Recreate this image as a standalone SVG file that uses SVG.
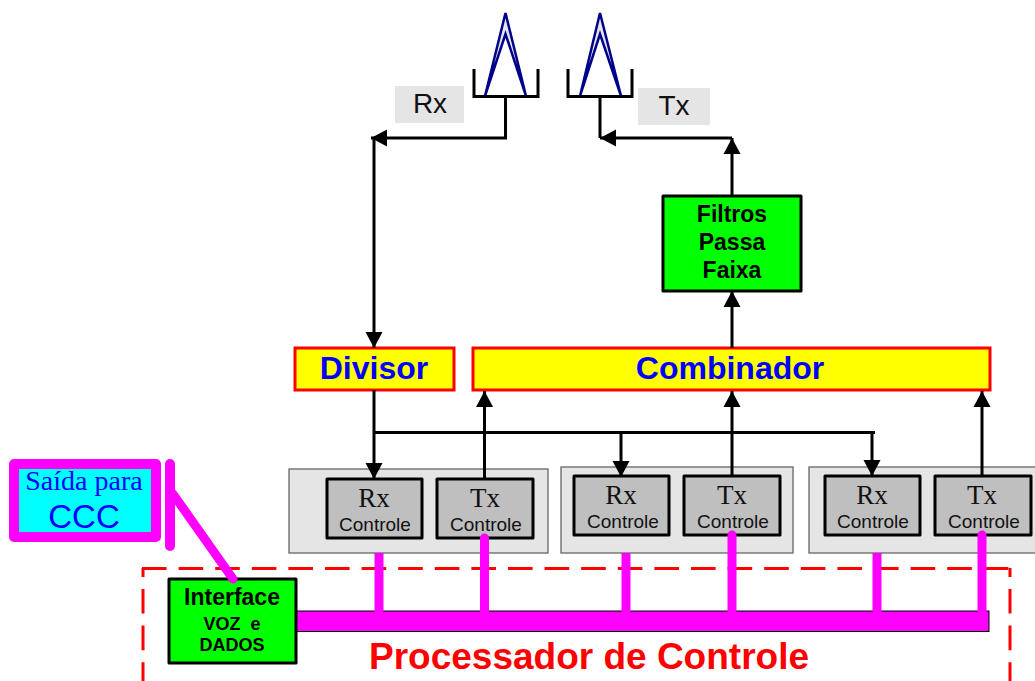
<svg xmlns="http://www.w3.org/2000/svg" width="1035" height="681" viewBox="0 0 1035 681">
<defs>
<marker id="ah" markerUnits="userSpaceOnUse" markerWidth="18" markerHeight="18" refX="16" refY="9" orient="auto"><path d="M0,0.500L16,9L0,17.500Z" fill="#000"/></marker>
</defs>
<style>
text{font-family:"Liberation Sans",Arial,sans-serif;text-anchor:middle}
.serif{font-family:"Liberation Serif","Times New Roman",serif}
.panel{fill:#e5e5e5;stroke:#666;stroke-width:1.3}
.mod{fill:#bfbfbf;stroke:#000;stroke-width:3;stroke-linejoin:round}
.big{font-size:27px;fill:#111}
.small{font-size:19px;fill:#111}
.conn{fill:none;stroke:#000;stroke-width:3}
.arrow{marker-end:url(#ah)}
.ant{fill:none;stroke:#000;stroke-width:3}
.dish{fill:#e5e5e5;stroke:#00008b;stroke-width:2.5}
.yel{fill:#ff0;stroke:#f00;stroke-width:3}
.blueb{font-size:32px;font-weight:bold;fill:#00f}
.grn{fill:#0f0;stroke:#000;stroke-width:3;stroke-linejoin:round}
.bl{font-weight:bold;fill:#000}
.dash{fill:none;stroke:#f00;stroke-width:3;stroke-dasharray:24.600 12}
</style>
<g id="panels">
<rect class="panel" x="289" y="469" width="259" height="84"/>
<rect class="panel" x="561" y="467" width="232" height="86"/>
<rect class="panel" x="809" y="467" width="232" height="86"/>
</g>
<g id="frame">
<path class="dash" d="M142,568.500H1010"/>
<path class="dash" d="M143,568V684" stroke-dashoffset="15.600"/>
<path class="dash" d="M1010,568V684" stroke-dashoffset="15.600"/>
</g>
<g id="antenna-rx">
<path class="dish" d="M485,96L505.500,13L526,96L505.500,34Z"/>
<path class="ant" d="M474,69V96.500H538V69"/>
</g>
<g id="antenna-tx">
<path class="dish" d="M580,96L600,13L621,96L600,34Z"/>
<path class="ant" d="M568,69V96.500H632V69"/>
</g>
<g id="label-rx"><rect x="395" y="86" width="69" height="37" fill="#e5e5e5"/><text x="430" y="113" font-size="28" fill="#111">Rx</text></g>
<g id="label-tx"><rect x="638" y="88" width="72" height="37" fill="#e5e5e5"/><text x="674" y="115" font-size="28" fill="#111">Tx</text></g>
<g id="bus"><rect x="296" y="611" width="693" height="20.500" fill="#f0f" stroke="#000" stroke-width="1"/></g>
<g id="divisor"><rect class="yel" x="295" y="348" width="159" height="42"/><text class="blueb" x="374" y="379">Divisor</text></g>
<g id="combinador"><rect class="yel" x="473" y="348" width="517" height="42"/><text class="blueb" x="730" y="379">Combinador</text></g>
<g id="filtros"><rect class="grn" x="663" y="196" width="138" height="95"/>
<text class="bl" x="732" y="222" font-size="23">Filtros</text><text class="bl" x="732" y="250" font-size="23">Passa</text><text class="bl" x="732" y="278" font-size="23">Faixa</text></g>
<g id="rx1"><rect class="mod" x="327" y="479" width="95" height="59"/><text class="big serif" x="374" y="507">Rx</text><text class="small" x="375" y="531">Controle</text></g>
<g id="tx1"><rect class="mod" x="437" y="479" width="96" height="59"/><text class="big serif" x="485" y="507">Tx</text><text class="small" x="486" y="531">Controle</text></g>
<g id="rx2"><rect class="mod" x="574" y="476" width="95" height="59"/><text class="big serif" x="621" y="504">Rx</text><text class="small" x="623" y="528">Controle</text></g>
<g id="tx2"><rect class="mod" x="684" y="476" width="96" height="59"/><text class="big serif" x="732" y="504">Tx</text><text class="small" x="733" y="528">Controle</text></g>
<g id="rx3"><rect class="mod" x="825" y="476" width="95" height="59"/><text class="big serif" x="872" y="504">Rx</text><text class="small" x="873" y="528">Controle</text></g>
<g id="tx3"><rect class="mod" x="935" y="476" width="96" height="59"/><text class="big serif" x="982" y="504">Tx</text><text class="small" x="984" y="528">Controle</text></g>
<g id="interface"><rect class="grn" x="169" y="579" width="127" height="84"/>
<text class="bl" x="232" y="605" font-size="23">Interface</text><text class="bl" x="232" y="630" font-size="18" xml:space="preserve">VOZ  e</text><text class="bl" x="232" y="651" font-size="18">DADOS</text></g>
<g id="saida"><rect x="14" y="464" width="142" height="73" fill="#0ff" stroke="#f0f" stroke-width="10" stroke-linejoin="round"/>
<text class="serif" x="84" y="490" font-size="28" fill="#00f">Saída para</text><text x="84" y="528" font-size="33" fill="#00f">CCC</text></g>
<g id="processador"><text x="589" y="669" font-size="37" font-weight="bold" fill="#f00">Processador de Controle</text></g>
<g id="connectors">
<path class="conn arrow" d="M505.500,96V138H371"/>
<path class="conn" d="M600,96V138"/>
<path class="conn arrow" d="M732,138H600"/>
<path class="conn arrow" d="M732,196V138"/>
<path class="conn arrow" d="M732,348V291"/>
<path class="conn arrow" d="M374,138V348"/>
<path class="conn arrow" d="M374,390V479"/>
<path class="conn" d="M374,432.500H875"/>
<path class="conn arrow" d="M621,432V477"/>
<path class="conn arrow" d="M872,432V476"/>
<path class="conn arrow" d="M484.500,479V391"/>
<path class="conn arrow" d="M732,476V391"/>
<path class="conn arrow" d="M982,476V391"/>
<path d="M379,553V612M626,553V612M877,553V612" stroke="#f0f" stroke-width="9" fill="none"/>
<path d="M484.500,538V612M732,535V612M982,535V612" stroke="#f0f" stroke-width="9" stroke-linecap="round" fill="none"/>
<path d="M170,464V546" stroke="#f0f" stroke-width="10" stroke-linecap="round" fill="none"/>
<path d="M173,494L233,579" stroke="#f0f" stroke-width="9" stroke-linecap="round" fill="none"/>
</g>
</svg>
